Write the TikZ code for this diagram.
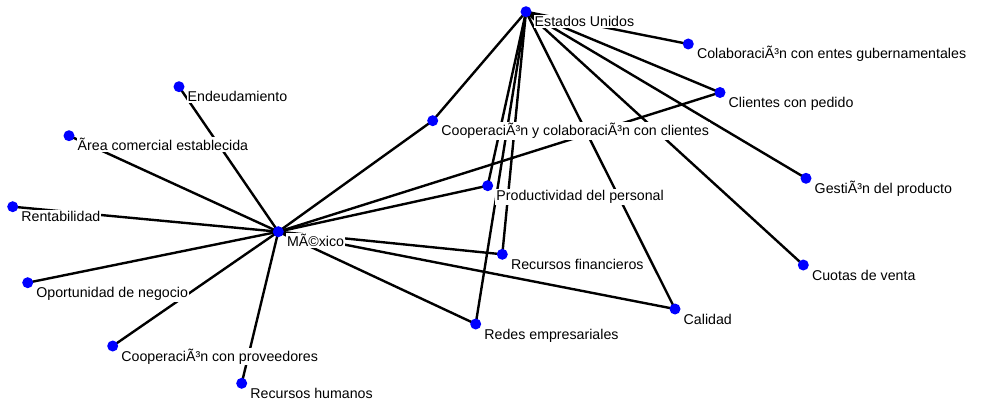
\documentclass[tikz,border=0pt]{standalone}
\usepackage{fontspec}
\setmainfont{Liberation Sans}

\begin{document}
\begin{tikzpicture}[x=1pt,y=-1pt,
  vtx/.style={fill=blue},
  tie/.style={line width=2.4pt},
  lbl/.style={anchor=base west,fill=white,inner sep=1pt,
    font=\fontsize{14.2}{16}\selectfont}]

  \useasboundingbox (0,0) rectangle (982,404);

  % Actors
  \coordinate (mx) at (278.3,231.7);
  \coordinate (eu) at (526,11.7);

  % Factors
  \coordinate (endeud) at (179,86.7);
  \coordinate (area)   at (69,135.7);
  \coordinate (rentab) at (12.7,206.7);
  \coordinate (oport)  at (27.7,282.7);
  \coordinate (cprov)  at (112.7,346);
  \coordinate (rhum)   at (241.7,383.3);
  \coordinate (ccli)   at (432.7,120.7);
  \coordinate (prod)   at (487.7,185.7);
  \coordinate (recfin) at (502.3,254.3);
  \coordinate (redes)  at (475.7,324);
  \coordinate (calid)  at (675,309);
  \coordinate (centes) at (688.3,44);
  \coordinate (clped)  at (720,92.5);
  \coordinate (gest)   at (806,178.3);
  \coordinate (cuotas) at (803.3,265);

  % Links from Mexico
  \draw[tie] (mx) -- (endeud);
  \draw[tie] (mx) -- (area);
  \draw[tie] (mx) -- (rentab);
  \draw[tie] (mx) -- (oport);
  \draw[tie] (mx) -- (cprov);
  \draw[tie] (mx) -- (rhum);
  \draw[tie] (mx) -- (ccli);
  \draw[tie] (mx) -- (prod);
  \draw[tie] (mx) -- (clped);
  \draw[tie] (mx) -- (recfin);
  \draw[tie] (mx) -- (redes);
  \draw[tie] (mx) -- (calid);

  % Links from Estados Unidos
  \draw[tie] (eu) -- (ccli);
  \draw[tie] (eu) -- (redes);
  \draw[tie] (eu) -- (prod);
  \draw[tie] (eu) -- (recfin);
  \draw[tie] (eu) -- (calid);
  \draw[tie] (eu) -- (cuotas);
  \draw[tie] (eu) -- (gest);
  \draw[tie] (eu) -- (clped);
  \draw[tie] (eu) -- (centes);

  % Labels, below right of each point
  \node[lbl] (mx-l)     at ([shift={(7.5pt,-15pt)}]mx)     {MÃ©xico};
  \node[lbl] (eu-l)     at ([shift={(7.5pt,-15pt)}]eu)     {Estados Unidos};
  \node[lbl] (endeud-l) at ([shift={(7.5pt,-15pt)}]endeud) {Endeudamiento};
  \node[lbl] (area-l)   at ([shift={(7.5pt,-15pt)}]area)   {Ãrea comercial establecida};
  \node[lbl] (rentab-l) at ([shift={(7.5pt,-15pt)}]rentab) {Rentabilidad};
  \node[lbl] (oport-l)  at ([shift={(7.5pt,-15pt)}]oport)  {Oportunidad de negocio};
  \node[lbl] (cprov-l)  at ([shift={(7.5pt,-15pt)}]cprov)  {CooperaciÃ³n con proveedores};
  \node[lbl] (rhum-l)   at ([shift={(7.5pt,-15pt)}]rhum)   {Recursos humanos};
  \node[lbl] (ccli-l)   at ([shift={(7.5pt,-15pt)}]ccli)   {CooperaciÃ³n y colaboraciÃ³n con clientes};
  \node[lbl] (prod-l)   at ([shift={(7.5pt,-15pt)}]prod)   {Productividad del personal};
  \node[lbl] (recfin-l) at ([shift={(7.5pt,-15pt)}]recfin) {Recursos financieros};
  \node[lbl] (redes-l)  at ([shift={(7.5pt,-15pt)}]redes)  {Redes empresariales};
  \node[lbl] (calid-l)  at ([shift={(7.5pt,-15pt)}]calid)  {Calidad};
  \node[lbl] (centes-l) at ([shift={(7.5pt,-15pt)}]centes) {ColaboraciÃ³n con entes gubernamentales};
  \node[lbl] (clped-l)  at ([shift={(7.5pt,-15pt)}]clped)  {Clientes con pedido};
  \node[lbl] (gest-l)   at ([shift={(7.5pt,-15pt)}]gest)   {GestiÃ³n del producto};
  \node[lbl] (cuotas-l) at ([shift={(7.5pt,-15pt)}]cuotas) {Cuotas de venta};

  % Points
  \foreach \p in {mx,eu,endeud,area,rentab,oport,cprov,rhum,ccli,prod,
                  recfin,redes,calid,centes,clped,gest,cuotas}
    \fill[vtx] (\p) circle (5.5pt);

\end{tikzpicture}
\end{document}
